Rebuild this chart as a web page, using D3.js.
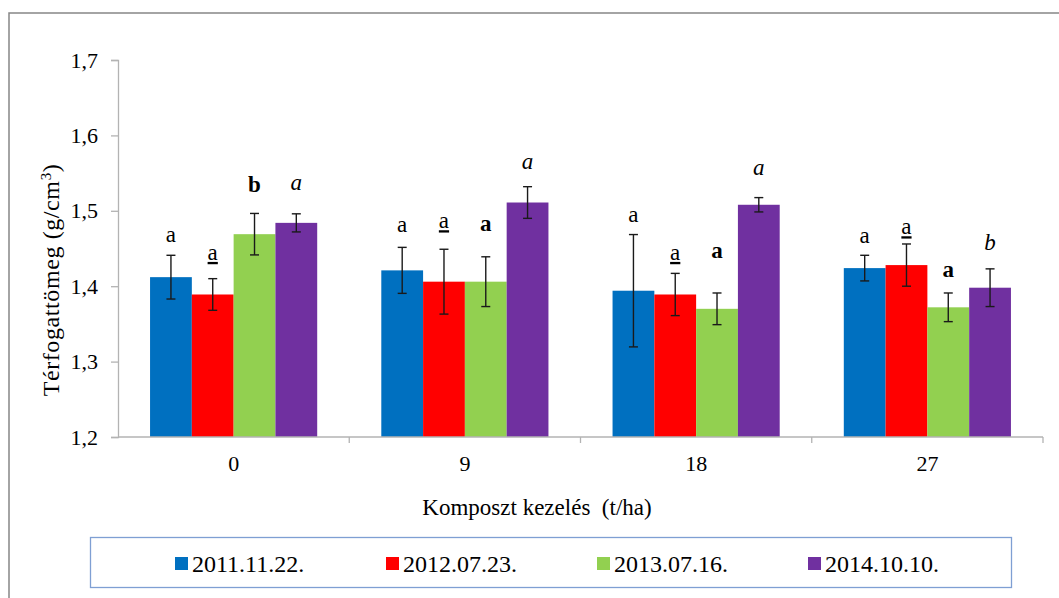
<!DOCTYPE html>
<html>
<head>
<meta charset="UTF-8" />
<script src="https://d3js.org/d3.v7.min.js"></script>
</head>
<body style="margin:0">
<script>
// data
var doses = ["0", "9", "18", "27"];
var dates = ["2011.11.22.", "2012.07.23.", "2013.07.16.", "2014.10.10."];
var colors = ["#0070c0", "#ff0000", "#92d050", "#7030a0"];
// mean bulk density per dose, one row per dose, one column per date
var means = [
  [1.412, 1.389, 1.469, 1.484],
  [1.421, 1.406, 1.406, 1.511],
  [1.394, 1.389, 1.370, 1.508],
  [1.424, 1.428, 1.372, 1.398]
];
var errs = [
  [0.029, 0.021, 0.0275, 0.012],
  [0.0305, 0.043, 0.033, 0.021],
  [0.0745, 0.028, 0.021, 0.0095],
  [0.017, 0.028, 0.019, 0.025]
];
// significance letters and the height (g/cm3) they stand at
var letters = [
  ["a", "a", "b", "a"],
  ["a", "a", "a", "a"],
  ["a", "a", "a", "a"],
  ["a", "a", "a", "b"]
];
var letterAt = [
  [1.468, 1.444, 1.534, 1.537],
  [1.481, 1.486, 1.483, 1.565],
  [1.494, 1.444, 1.446, 1.556],
  [1.466, 1.478, 1.422, 1.457]
];
var yTicks = [1.2, 1.3, 1.4, 1.5, 1.6, 1.7];

var serif = "'Liberation Serif'";
var width = 1059, height = 598;
var svg = d3.select("body").append("svg").attr("width", width).attr("height", height);

// outer frame
svg.append("rect").attr("x", 9).attr("y", 13).attr("width", 1100).attr("height", 700)
  .attr("fill", "none").attr("stroke", "#868686").attr("stroke-width", 1.5);

var x = d3.scaleBand().domain(doses).range([118, 1043]).padding(0);
var x1 = d3.scaleBand().domain(d3.range(dates.length)).range([0, x.bandwidth()])
  .paddingInner(0).paddingOuter(0.767);
var y = d3.scaleLinear().domain([1.2, 1.7]).range([437, 60]);

var fmt = function(d){ return d3.format(".1f")(d).replace(".", ","); };

// y axis
var gy = svg.append("g").attr("transform", "translate(118,0)")
  .call(d3.axisLeft(y).tickValues(yTicks).tickFormat(fmt).tickSize(7).tickPadding(13));
gy.select(".domain").attr("stroke", "#b3b3b3").attr("stroke-width", 1.3);
gy.selectAll(".tick line").attr("stroke", "#b3b3b3").attr("stroke-width", 1.3);
gy.selectAll(".tick text").style("font-family", serif).style("font-size", "22px").attr("fill", "#000");

// bars
var groups = svg.selectAll(".grp").data(means).enter().append("g")
  .attr("transform", function(d, i){ return "translate(" + x(doses[i]) + ",0)"; });

groups.selectAll("rect").data(function(d){ return d; }).enter().append("rect")
  .attr("x", function(d, j){ return x1(j); })
  .attr("width", x1.bandwidth())
  .attr("y", function(d){ return y(d); })
  .attr("height", function(d){ return y(1.2) - y(d); })
  .attr("fill", function(d, j){ return colors[j]; });

// error bars
groups.each(function(row, i){
  var g = d3.select(this);
  row.forEach(function(m, j){
    var cx = x1(j) + x1.bandwidth() / 2;
    var lo = y(m - errs[i][j]), hi = y(m + errs[i][j]);
    var eg = g.append("g").attr("stroke", "#1a1a1a").attr("stroke-width", 1.4);
    eg.append("line").attr("x1", cx).attr("x2", cx).attr("y1", lo).attr("y2", hi);
    eg.append("line").attr("x1", cx - 4.5).attr("x2", cx + 4.5).attr("y1", lo).attr("y2", lo);
    eg.append("line").attr("x1", cx - 4.5).attr("x2", cx + 4.5).attr("y1", hi).attr("y2", hi);
  });
});

// letters: plain, underlined, bold, italic by date
groups.each(function(row, i){
  var g = d3.select(this);
  letters[i].forEach(function(l, j){
    var t = g.append("text")
      .attr("x", x1(j) + x1.bandwidth() / 2)
      .attr("y", y(letterAt[i][j]))
      .attr("dy", "0.3em")
      .attr("text-anchor", "middle")
      .style("font-family", serif)
      .attr("font-size", 23)
      .text(l);
    if (j === 1) t.attr("text-decoration", "underline");
    if (j === 2) t.attr("font-weight", "bold");
    if (j === 3) t.attr("font-style", "italic");
  });
});

// x axis
var gx = svg.append("g").attr("transform", "translate(0,437)");
gx.append("line").attr("x1", 118).attr("x2", 1043).attr("stroke", "#b3b3b3").attr("stroke-width", 1.5);
gx.selectAll(".tk").data(doses.slice(1).concat(["end"])).enter().append("line")
  .attr("x1", function(d, i){ return x(doses[0]) + x.step() * (i + 1); })
  .attr("x2", function(d, i){ return x(doses[0]) + x.step() * (i + 1); })
  .attr("y1", 0).attr("y2", 6).attr("stroke", "#b3b3b3").attr("stroke-width", 1.3);
gx.selectAll(".lab").data(doses).enter().append("text")
  .attr("x", function(d){ return x(d) + x.bandwidth() / 2; })
  .attr("y", 34)
  .attr("text-anchor", "middle")
  .style("font-family", serif)
  .attr("font-size", 22)
  .text(function(d){ return d; });

// axis titles
svg.append("text").attr("x", 537).attr("y", 515).attr("text-anchor", "middle")
  .style("font-family", serif).style("white-space", "pre")
  .attr("font-size", 23).text("Komposzt kezelés  (t/ha)");

var yt = svg.append("text").attr("transform", "translate(59,280) rotate(-90)")
  .attr("text-anchor", "middle").style("font-family", serif)
  .attr("font-size", 24).attr("letter-spacing", 0.6);
yt.append("tspan").text("Térfogattömeg (g/cm");
yt.append("tspan").attr("baseline-shift", "super").attr("font-size", 15).text("3");
yt.append("tspan").text(")");

// legend
svg.append("rect").attr("x", 90.5).attr("y", 537.5).attr("width", 921).attr("height", 50)
  .attr("fill", "#fff").attr("stroke", "#7f9fd3").attr("stroke-width", 1.3);
var leg = svg.selectAll(".leg").data(dates).enter().append("g")
  .attr("transform", function(d, i){ return "translate(" + (175 + i * 211) + ",557)"; });
leg.append("rect").attr("width", 13).attr("height", 13)
  .attr("fill", function(d, i){ return colors[i]; });
leg.append("text").attr("x", 17).attr("y", 15)
  .style("font-family", serif).attr("font-size", 24)
  .text(function(d){ return d; });
</script>
</body>
</html>
